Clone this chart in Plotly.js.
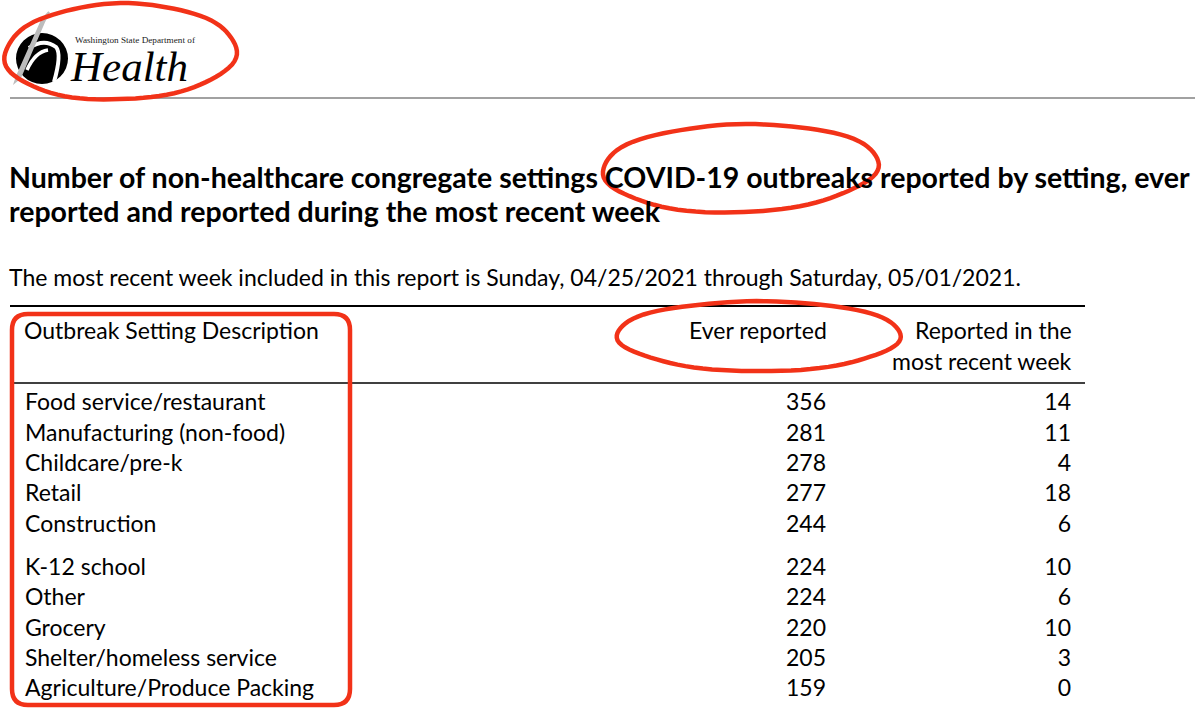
<!DOCTYPE html>
<html><head><meta charset="utf-8">
<script src="https://cdn.plot.ly/plotly-3.0.1.min.js"></script>
<style>html,body{margin:0;padding:0;background:#fff}#chart{width:1200px;height:716px}</style>
</head><body><div id="chart"></div>
<script>
// ---- data ----
const settings = ["Food service/restaurant","Manufacturing (non-food)","Childcare/pre-k","Retail","Construction","K-12 school","Other","Grocery","Shelter/homeless service","Agriculture/Produce Packing"];
const everReported = [356,281,278,277,244,224,224,220,205,159];
const recentWeek = [14,11,4,18,6,10,6,10,3,0];
const columnHeaders = ["Outbreak Setting Description","Ever reported","Reported in the","most recent week"];
const titleLines = ["Number of non-healthcare congregate settings COVID-19 outbreaks reported by setting, ever","reported and reported during the most recent week"];
const subtitleText = "The most recent week included in this report is Sunday, 04/25/2021 through Saturday, 05/01/2021.";
const agencyLine = "Washington State Department of";
const agencyName = "Health";

// ---- layout helpers ----
const FONT = "Lato, 'Open Sans', sans-serif";
const RED = "rgb(242,50,24)";
function rowY(i){ return 404.5 + i*30.35 + (i>=5 ? 13 : 0); }
const ys = settings.map((_, i) => rowY(i));

function ellipsePath(cx, cy, rx, ry, rot, phase){
  const n = 90, c = Math.cos(rot), s = Math.sin(rot);
  let d = "";
  for (let k = 0; k <= n + 6; k++){
    const t = k / n * 2 * Math.PI + phase;
    const w = 1 + 0.012*Math.sin(3*t + phase) + 0.008*Math.sin(7*t);
    const ex = rx*w*Math.cos(t), ey = ry*w*Math.sin(t);
    const x = cx + ex*c - ey*s, y = cy + ex*s + ey*c;
    d += (k === 0 ? "M" : "L") + x.toFixed(1) + "," + y.toFixed(1) + " ";
  }
  return d;
}
function roundRectPath(x0, y0, x1, y1, r){
  return `M${x0+r},${y0} L${x1-r},${y0} Q${x1},${y0} ${x1},${y0+r} L${x1},${y1-r} Q${x1},${y1} ${x1-r},${y1} L${x0+r},${y1} Q${x0},${y1} ${x0},${y1-r} L${x0},${y0+r} Q${x0},${y0} ${x0+r},${y0} Z`;
}

const textFont = {family: FONT, size: 23, color: "#000"};
const traces = [
  {x: settings.map(() => 25), y: ys, text: settings, mode: "text", textposition: "middle right", textfont: textFont, hoverinfo: "skip", showlegend: false},
  {x: everReported.map(() => 826), y: ys, text: everReported.map(String), mode: "text", textposition: "middle left", textfont: textFont, hoverinfo: "skip", showlegend: false},
  {x: recentWeek.map(() => 1071), y: ys, text: recentWeek.map(String), mode: "text", textposition: "middle left", textfont: textFont, hoverinfo: "skip", showlegend: false}
];

const ann = (x, y, text, opts) => Object.assign({x, y, xref: "x", yref: "y", text, showarrow: false, xanchor: "left", yanchor: "middle", font: textFont}, opts || {});
const titleFont = {family: FONT, size: 28.5, color: "#000"};
const annotations = [
  ann(7, 177, "<b>" + titleLines[0] + "</b>", {font: titleFont}),
  ann(7, 211, "<b>" + titleLines[1] + "</b>", {font: titleFont}),
  ann(7, 277, subtitleText),
  ann(22, 330, columnHeaders[0]),
  ann(829, 330, columnHeaders[1], {xanchor: "right"}),
  ann(1074, 330, columnHeaders[2], {xanchor: "right"}),
  ann(1074, 361, columnHeaders[3], {xanchor: "right"}),
  ann(73, 40, agencyLine, {font: {family: "'Liberation Serif', serif", size: 9.2, color: "#222"}}),
  ann(68, 66, "<i>" + agencyName + "</i>", {font: {family: "'Liberation Serif', serif", size: 43, color: "#000"}})
];

const shapes = [
  // logo
  {type: "circle", xref: "x", yref: "y", x0: 16, x1: 68, y0: 33, y1: 84, fillcolor: "#000", line: {width: 0}},
  {type: "path", xref: "x", yref: "y", path: "M29,48 Q44,38 56,47 Q62,54 54,82", line: {color: "#fff", width: 4}},
  {type: "path", xref: "x", yref: "y", path: "M27,70 Q35,52 48,50", line: {color: "#fff", width: 3.5}},
  {type: "path", xref: "x", yref: "y", path: "M49,12 L44,22 L20,78 L15,82 L17,76 L42,20 Z", fillcolor: "#bdbdbd", line: {color: "#bdbdbd", width: 2}},
  // rules
  {type: "line", xref: "x", yref: "y", x0: 10, x1: 1195, y0: 98, y1: 98, line: {color: "#444", width: 1.2}},
  {type: "line", xref: "x", yref: "y", x0: 10, x1: 1085, y0: 306, y1: 306, line: {color: "#000", width: 2}},
  {type: "line", xref: "x", yref: "y", x0: 10, x1: 1085, y0: 383, y1: 383, line: {color: "#000", width: 1.5}},
  // red annotations
  {type: "path", xref: "x", yref: "y", path: ellipsePath(120, 52, 116, 48, -0.03, 0.4), line: {color: RED, width: 4.5}},
  {type: "path", xref: "x", yref: "y", path: ellipsePath(740, 168, 138, 44, -0.03, 2.6), line: {color: RED, width: 4.5}},
  {type: "path", xref: "x", yref: "y", path: ellipsePath(759, 336, 142, 35, 0.0, 3.3), line: {color: RED, width: 4.5}},
  {type: "path", xref: "x", yref: "y", path: roundRectPath(12, 314, 350, 705, 16), line: {color: RED, width: 4.5}}
];

const layout = {
  width: 1200, height: 716,
  margin: {l: 0, r: 0, t: 0, b: 0},
  paper_bgcolor: "#fff", plot_bgcolor: "#fff",
  xaxis: {range: [0, 1200], visible: false, fixedrange: true},
  yaxis: {range: [716, 0], visible: false, fixedrange: true},
  annotations, shapes, showlegend: false
};
Plotly.newPlot("chart", traces, layout, {staticPlot: true, displayModeBar: false});
</script>
</body></html>
